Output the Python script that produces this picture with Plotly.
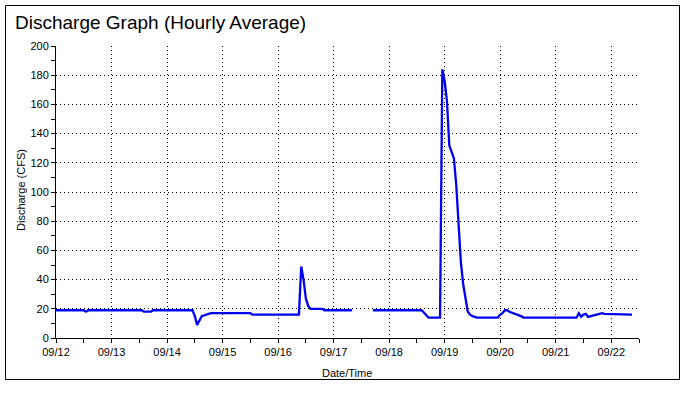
import plotly.graph_objects as go

# Breakpoints of the hourly discharge series (vertices of the drawn line)
times = [
    "2023-09-12 00:00", "2023-09-12 12:00", "2023-09-12 13:00", "2023-09-12 14:00",
    "2023-09-13 13:00", "2023-09-13 14:00", "2023-09-13 17:00", "2023-09-13 18:00",
    "2023-09-14 11:00", "2023-09-14 12:00", "2023-09-14 13:00", "2023-09-14 14:00",
    "2023-09-14 15:00", "2023-09-14 17:00", "2023-09-14 19:00",
    "2023-09-15 12:00", "2023-09-15 13:00",
    "2023-09-16 09:00", "2023-09-16 10:00", "2023-09-16 11:00", "2023-09-16 12:00",
    "2023-09-16 13:00", "2023-09-16 14:00", "2023-09-16 19:00", "2023-09-16 20:00",
    "2023-09-17 08:00", "2023-09-17 12:00",
    "2023-09-17 17:00", "2023-09-18 14:00", "2023-09-18 15:00", "2023-09-18 16:00",
    "2023-09-18 17:00", "2023-09-18 22:00", "2023-09-18 23:00",
    "2023-09-19 00:00", "2023-09-19 01:00", "2023-09-19 02:00", "2023-09-19 03:00",
    "2023-09-19 04:00", "2023-09-19 05:00", "2023-09-19 06:00", "2023-09-19 07:00",
    "2023-09-19 08:00", "2023-09-19 09:00", "2023-09-19 10:00", "2023-09-19 11:00",
    "2023-09-19 12:00", "2023-09-19 14:00", "2023-09-19 23:00",
    "2023-09-20 00:00", "2023-09-20 01:00", "2023-09-20 02:00", "2023-09-20 03:00",
    "2023-09-20 04:00", "2023-09-20 05:00", "2023-09-20 06:00", "2023-09-20 07:00",
    "2023-09-20 08:00", "2023-09-20 09:00", "2023-09-20 10:00",
    "2023-09-21 09:00", "2023-09-21 10:00", "2023-09-21 11:00", "2023-09-21 12:00",
    "2023-09-21 13:00", "2023-09-21 14:00", "2023-09-21 15:00", "2023-09-21 16:00",
    "2023-09-21 17:00", "2023-09-21 18:00", "2023-09-21 19:00", "2023-09-21 20:00",
    "2023-09-21 21:00", "2023-09-21 22:00", "2023-09-21 23:00",
    "2023-09-22 09:00",
]
discharge = [
    19, 19, 18, 19,
    19, 18, 18, 19,
    19, 15, 9, 12,
    15, 16, 17,
    17, 16,
    16, 49, 40, 27,
    22, 20, 20, 19,
    19, None,
    19, 19, 17.5, 15.5,
    14, 14, 184,
    176, 162, 132, 128,
    123, 105, 75, 52,
    37, 26, 18, 16,
    15, 14, 14,
    16, 17, 19, 19,
    18, 17.5, 17, 16,
    15.5, 15, 14,
    14, 17, 14.5, 16,
    16.5, 14.5, 15, 15,
    15.5, 16, 16.5, 17,
    16.5, 16.5, 16,
    16,
]

x_range = ["2023-09-12 00:00", "2023-09-22 12:00"]
y_range = [0, 200]

W, H = 697, 393
ML, MR, MT, MB = 56, 58, 46, 55
PW, PH = W - ML - MR, H - MT - MB

def px_x(p):
    return (p - ML) / PW

def px_y(p):
    return (H - MB - p) / PH

FONT = "Liberation Sans, Arial, sans-serif"

fig = go.Figure()
fig.add_trace(go.Scatter(
    x=times, y=discharge, mode="lines",
    line=dict(color="#0000f0", width=2.3),
    connectgaps=False, showlegend=False, hoverinfo="x+y",
))

axis_common = dict(
    showline=True, linecolor="black", linewidth=1,
    ticks="outside", ticklen=4, tickcolor="black", tickwidth=1,
    showgrid=True, gridcolor="black", gridwidth=1, griddash="1px,3px",
    zeroline=False, tickfont=dict(family=FONT, size=11, color="black"),
)

fig.update_xaxes(
    type="date", range=x_range, dtick=86400000, tick0="2023-09-12",
    tickformat="%m/%d",
    minor=dict(dtick=43200000, ticks="outside", ticklen=4, tickcolor="black", showgrid=False),
    **axis_common,
)
fig.update_yaxes(
    range=y_range, dtick=20, tick0=0,
    minor=dict(dtick=10, ticks="outside", ticklen=4, tickcolor="black", showgrid=False),
    **axis_common,
)

fig.add_shape(
    type="rect", xref="paper", yref="paper",
    x0=px_x(5.5), x1=px_x(679.5), y0=px_y(379.5), y1=px_y(5.5),
    line=dict(color="black", width=1), fillcolor="rgba(0,0,0,0)", layer="below",
)

fig.add_annotation(
    text="Discharge (CFS)", xref="paper", yref="paper",
    x=px_x(21), y=px_y(190), textangle=-90, showarrow=False,
    xanchor="center", yanchor="middle",
    font=dict(family=FONT, size=11, color="black"),
)
fig.add_annotation(
    text="Date/Time", xref="paper", yref="paper",
    x=px_x(347), y=px_y(373), showarrow=False,
    xanchor="center", yanchor="middle",
    font=dict(family=FONT, size=11, color="black"),
)

fig.update_layout(
    width=W, height=H,
    margin=dict(l=ML, r=MR, t=MT, b=MB, pad=0),
    paper_bgcolor="white", plot_bgcolor="white",
    title=dict(
        text="Discharge Graph (Hourly Average)",
        x=15 / W, xref="container", xanchor="left",
        y=1 - 22 / H, yref="container", yanchor="middle",
        font=dict(family=FONT, size=19, color="black"),
    ),
    showlegend=False,
)

fig.write_html(
    "out.html",
    config={"displayModeBar": False},
    post_script="document.body.style.margin='0';document.body.style.padding='0';",
)
